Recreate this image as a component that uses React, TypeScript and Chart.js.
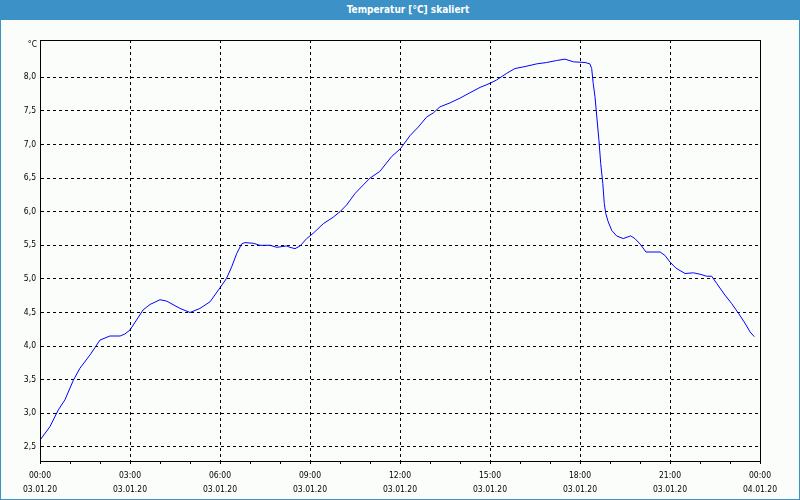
import React, { useEffect, useRef } from 'react';
import { Chart, registerables } from 'chart.js';

Chart.register(...registerables);

// ---- data ----
const hours = [
  0, 0.33, 0.61, 0.83, 1.11, 1.33, 1.67, 2.0, 2.33, 2.67,
  2.83, 3.0, 3.44, 3.67, 4.0, 4.22, 4.67, 5.0, 5.33, 5.67,
  6.02, 6.22, 6.39, 6.56, 6.72, 6.83, 7.11, 7.33, 7.67, 7.89,
  8.22, 8.33, 8.5, 8.67, 8.89, 9.11, 9.44, 9.78, 10.0, 10.22,
  10.5, 10.78, 11.0, 11.33, 11.72, 12.02, 12.33, 12.61, 12.89, 13.11,
  13.33, 13.67, 14.0, 14.33, 14.67, 15.0, 15.22, 15.56, 15.83, 16.17,
  16.56, 16.89, 17.22, 17.5, 17.78, 18.17, 18.33, 18.39, 18.44, 18.5,
  18.56, 18.63, 18.69, 18.76, 18.81, 18.86, 18.94, 19.06, 19.22, 19.44,
  19.69, 19.83, 20.0, 20.2, 20.44, 20.67, 20.83, 21.0, 21.2, 21.5,
  21.78, 22.0, 22.22, 22.39, 22.56, 22.83, 23.06, 23.28, 23.5, 23.67,
  23.81,
];
const temps = [
  2.60, 2.80, 3.05, 3.20, 3.49, 3.67, 3.87, 4.09, 4.15, 4.15,
  4.18, 4.24, 4.54, 4.62, 4.69, 4.67, 4.56, 4.50, 4.56, 4.66,
  4.88, 5.01, 5.18, 5.38, 5.52, 5.54, 5.53, 5.50, 5.50, 5.47,
  5.49, 5.47, 5.45, 5.49, 5.60, 5.68, 5.82, 5.92, 6.00, 6.10,
  6.27, 6.40, 6.50, 6.60, 6.82, 6.94, 7.13, 7.26, 7.41, 7.47,
  7.56, 7.62, 7.69, 7.77, 7.85, 7.91, 7.96, 8.06, 8.13, 8.16,
  8.20, 8.22, 8.25, 8.27, 8.23, 8.22, 8.20, 8.13, 7.91, 7.71,
  7.41, 7.07, 6.72, 6.42, 6.12, 5.97, 5.85, 5.72, 5.64, 5.60,
  5.64, 5.60, 5.52, 5.40, 5.40, 5.40, 5.35, 5.25, 5.16, 5.08,
  5.09, 5.07, 5.04, 5.04, 4.93, 4.76, 4.63, 4.49, 4.34, 4.21,
  4.14,
];
const yTickValues = [2.5, 3.0, 3.5, 4.0, 4.5, 5.0, 5.5, 6.0, 6.5, 7.0, 7.5, 8.0];
const xTickHours = [0, 1, 2, 3, 4, 5, 6, 7, 8, 9, 10, 11, 12, 13, 14, 15, 16, 17, 18, 19, 20, 21, 22, 23, 24];
const xLabelHours = [0, 3, 6, 9, 12, 15, 18, 21, 24];
const xLabelTimes = ['00:00', '03:00', '06:00', '09:00', '12:00', '15:00', '18:00', '21:00', '00:00'];
const xLabelDates = ['03.01.20', '03.01.20', '03.01.20', '03.01.20', '03.01.20', '03.01.20', '03.01.20', '03.01.20', '04.01.20'];
const chartTitle = 'Temperatur [°C] skaliert';
const unitLabel = '°C';
const yMin = 2.29;
const yMax = 8.555;
const xMin = 0;
const xMax = 24;

const FONT = '"DejaVu Sans Condensed", "Liberation Sans", Arial, sans-serif';
const BLUE = '#3c91c6';
const TICK_SIZE = 8.5;

export default function App() {
  const canvasRef = useRef<HTMLCanvasElement | null>(null);

  useEffect(() => {
    const canvas = canvasRef.current;
    if (!canvas) return;

    const framePlugin = {
      id: 'frame',
      afterDraw(chart: any) {
        const { ctx, chartArea } = chart;
        ctx.save();
        ctx.strokeStyle = '#000';
        ctx.lineWidth = 1;
        ctx.strokeRect(
          Math.round(chartArea.left) + 0.5,
          Math.round(chartArea.top) + 0.5,
          Math.round(chartArea.right - chartArea.left),
          Math.round(chartArea.bottom - chartArea.top)
        );
        ctx.fillStyle = '#000';
        ctx.font = TICK_SIZE + 'px ' + FONT;
        ctx.textAlign = 'right';
        ctx.textBaseline = 'middle';
        ctx.fillText(unitLabel, chartArea.left - 3, chartArea.top + 5);
        ctx.restore();
      },
    };

    const chart = new Chart(canvas, {
      type: 'line',
      data: {
        datasets: [
          {
            data: hours.map((h, i) => ({ x: h, y: temps[i] })),
            borderColor: '#0000ff',
            borderWidth: 1,
            pointRadius: 0,
            fill: false,
            tension: 0,
          },
        ],
      },
      options: {
        animation: false,
        responsive: false,
        layout: { padding: { top: 20, right: 39, left: 0, bottom: 0 } },
        plugins: {
          legend: { display: false },
          tooltip: { enabled: false },
          title: { display: false },
        },
        scales: {
          x: {
            type: 'linear',
            min: xMin,
            max: xMax,
            bounds: 'data',
            afterBuildTicks: (scale: any) => {
              scale.ticks = xTickHours.map((v) => ({ value: v }));
            },
            afterFit: (scale: any) => {
              scale.height = 38;
            },
            ticks: {
              autoSkip: false,
              maxRotation: 0,
              minRotation: 0,
              padding: 5,
              color: '#000',
              font: { family: FONT, size: TICK_SIZE, lineHeight: 1.6 },
              callback: (value: any) => {
                const idx = xLabelHours.indexOf(Number(value));
                if (idx < 0) return '';
                return [xLabelTimes[idx], xLabelDates[idx]];
              },
            },
            grid: {
              color: (ctx: any) =>
                ctx.tick && xLabelHours.indexOf(ctx.tick.value) >= 0 ? '#000' : 'rgba(0,0,0,0)',
              tickColor: '#000',
              tickLength: 3,
              lineWidth: 1,
            },
            border: { display: true, color: '#000', width: 1, dash: [3, 3] },
          },
          y: {
            type: 'linear',
            min: yMin,
            max: yMax,
            bounds: 'data',
            afterBuildTicks: (scale: any) => {
              scale.ticks = yTickValues.map((v) => ({ value: v }));
            },
            afterFit: (scale: any) => {
              scale.width = 39;
            },
            ticks: {
              padding: 4,
              color: '#000',
              font: { family: FONT, size: TICK_SIZE },
              callback: (value: any) => Number(value).toFixed(1).replace('.', ','),
            },
            grid: {
              color: '#000',
              drawTicks: false,
              lineWidth: 1,
            },
            border: { display: true, color: '#000', width: 1, dash: [3, 3] },
          },
        },
      },
      plugins: [framePlugin],
    } as any);

    return () => chart.destroy();
  }, []);

  return (
    <div
      style={{
        position: 'fixed',
        left: 0,
        top: 0,
        width: 800,
        height: 500,
        boxSizing: 'border-box',
        border: `1px solid ${BLUE}`,
        background: '#fbfdfb',
        overflow: 'hidden',
      }}
    >
      <div
        style={{
          height: 19,
          background: BLUE,
          color: '#fff',
          fontFamily: FONT,
          fontWeight: 'bold',
          fontSize: 10,
          lineHeight: '17px',
          textAlign: 'center',
          paddingLeft: 16,
        }}
      >
        {chartTitle}
      </div>
      <canvas ref={canvasRef} width={798} height={479} style={{ display: 'block' }} />
    </div>
  );
}
